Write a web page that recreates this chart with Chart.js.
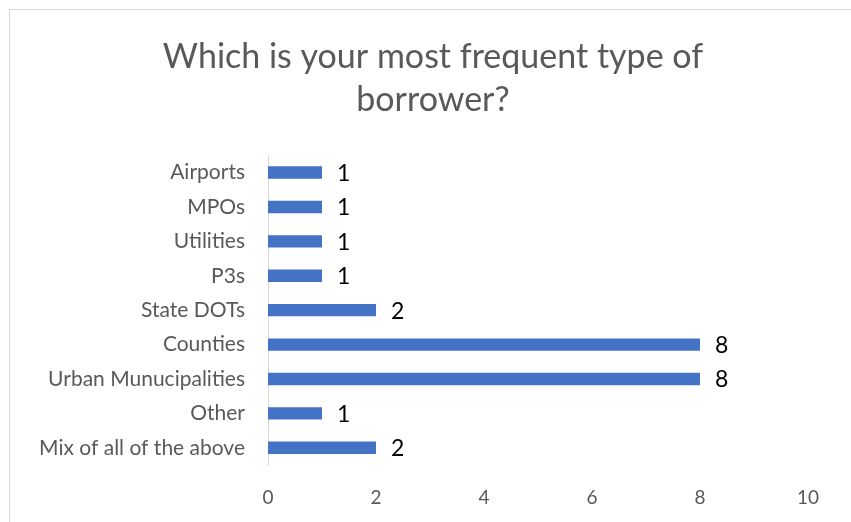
<!DOCTYPE html>
<html>
<head>
<meta charset="utf-8">
<script src="https://cdn.jsdelivr.net/npm/chart.js@4.4.1/dist/chart.umd.min.js"></script>
<style>
  body { margin: 0; background: #fff; overflow: hidden; width: 851px; height: 522px; position: relative; }
  #frame { position: absolute; left: 9px; top: 9px; width: 900px; height: 600px; border: 1px solid #d9d9d9; }
  #chart { position: absolute; left: 0; top: 0; }
</style>
</head>
<body>
<div id="frame"></div>
<canvas id="chart" width="851" height="522"></canvas>
<script>
// données
const titleLines = ["Which is your most frequent type of", "borrower?"];
const categories = ["Airports", "MPOs", "Utilities", "P3s", "State DOTs", "Counties", "Urban Munucipalities", "Other", "Mix of all of the above"];
const counts = [1, 1, 1, 1, 2, 8, 8, 1, 2];
const xTicks = [0, 2, 4, 6, 8, 10];

const fontFamily = "Lato, 'Open Sans', sans-serif";

// etiquettes de valeur au bout des barres
const valueLabels = {
    id: 'valueLabels',
    afterDatasetsDraw(chart) {
        let ctx = chart.ctx;
        let meta = chart.getDatasetMeta(0);
        ctx.save();
        ctx.font = "23px " + fontFamily;
        ctx.fillStyle = "#000000";
        ctx.textAlign = "left";
        ctx.textBaseline = "middle";
        meta.data.forEach((bar, i) => {
            ctx.fillText(String(counts[i]), bar.x + 15, bar.y + 1);
        });
        ctx.restore();
    }
};

let ctx = document.getElementById('chart').getContext('2d');
new Chart(ctx, {
    type: 'bar',
    data: {
        labels: categories,
        datasets: [{
            data: counts,
            backgroundColor: "#4472C4",
            barPercentage: 0.36,
            categoryPercentage: 1
        }]
    },
    options: {
        indexAxis: 'y',
        responsive: false,
        animation: false,
        layout: { padding: { left: 15, right: 0, top: 0, bottom: 0 } },
        scales: {
            x: {
                min: 0,
                max: 10,
                afterBuildTicks: scale => { scale.ticks = xTicks.map(v => ({ value: v })); },
                afterFit: scale => { scale.height = 57; },
                grid: { display: false, drawTicks: false },
                border: { display: false },
                ticks: { color: "#595959", padding: 21, font: { family: fontFamily, size: 19 } }
            },
            y: {
                afterFit: scale => { scale.width = 253; },
                grid: { display: false, drawTicks: false },
                border: { display: true, color: "#d9d9d9", width: 1 },
                ticks: { color: "#595959", padding: 23, font: { family: fontFamily, size: 21 } }
            },
            // axe vide pour garder la marge de droite
            yRight: {
                type: 'linear',
                position: 'right',
                afterFit: scale => { scale.width = 43; },
                grid: { display: false, drawTicks: false },
                border: { display: false },
                ticks: { display: false }
            }
        },
        plugins: {
            legend: { display: false },
            tooltip: { enabled: false },
            title: {
                display: true,
                text: titleLines,
                color: "#595959",
                font: { family: fontFamily, size: 34, weight: 'normal', lineHeight: 1.27 },
                padding: { top: 35, bottom: 34 }
            }
        }
    },
    plugins: [valueLabels]
});
</script>
</body>
</html>
